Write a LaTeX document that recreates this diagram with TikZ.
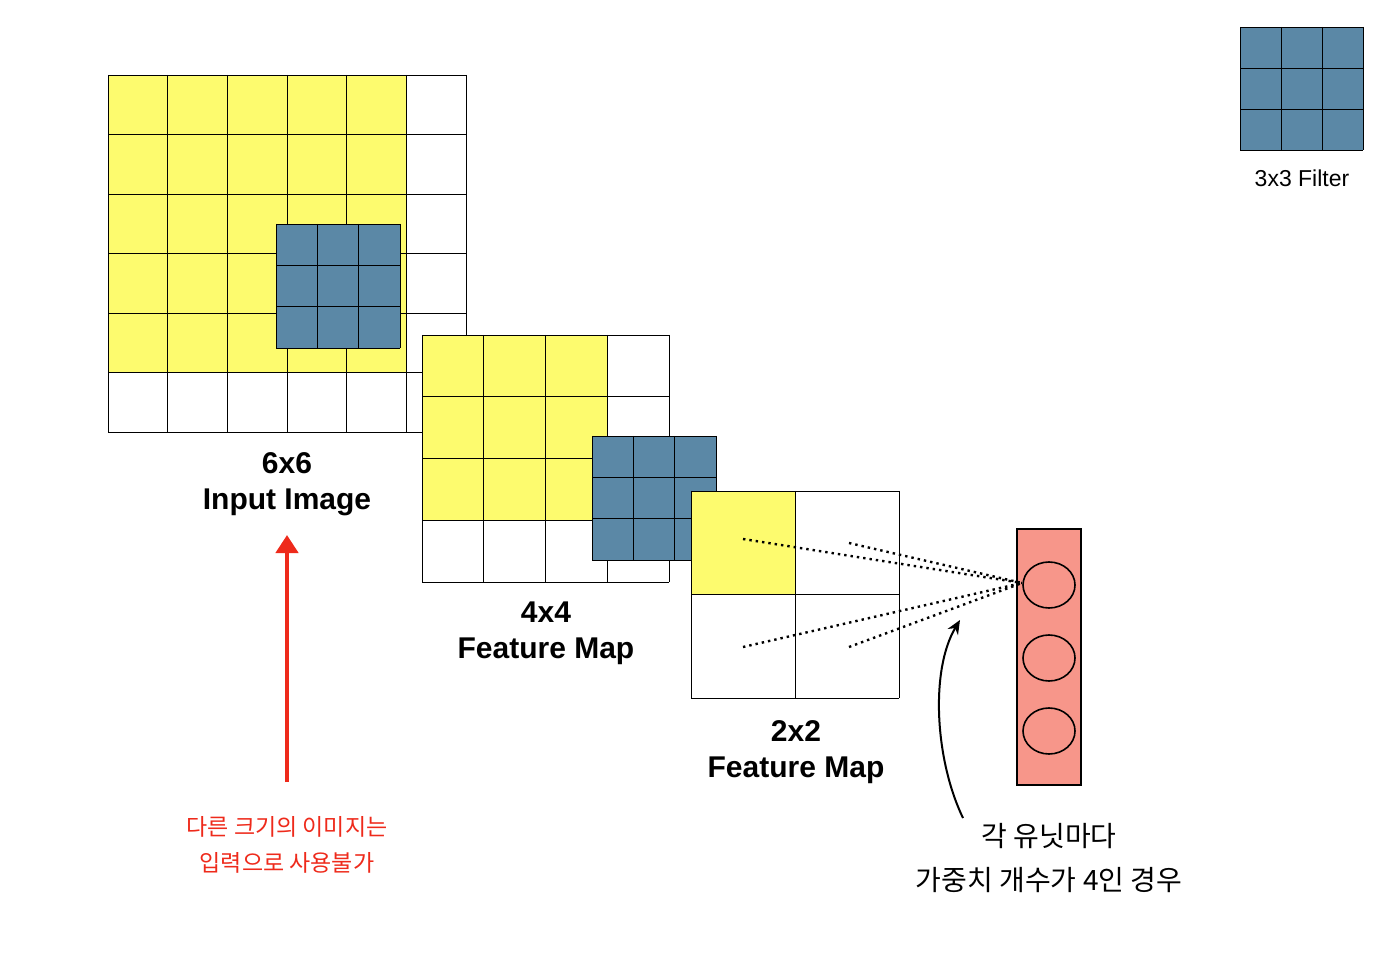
\documentclass[tikz,border=0pt]{standalone}
\usepackage{fontspec}
\setmainfont{Liberation Sans}
\newfontfamily\kofont{Noto Sans CJK KR}
\usetikzlibrary{positioning, arrows.meta, shapes.geometric}
\definecolor{cellyellow}{HTML}{FDFB6E}
\definecolor{filterblue}{HTML}{5B88A6}
\definecolor{unitred}{HTML}{F7968A}
\definecolor{notered}{HTML}{EE2A1B}
\begin{document}
\begin{tikzpicture}[
    x=0.5pt, y=-0.5pt,
    % Style for the grid lines
    grid_line/.style={draw=black, line width=0.4pt},
    % Style for the bold captions
    caption_style/.style={font=\fontsize{15}{18}\selectfont\bfseries, align=center},
    % Style for the Korean notes
    note_style/.style={font=\kofont\fontsize{14}{22}\selectfont, align=center},
    unit_style/.style={ellipse, draw, line width=0.8pt, minimum width=26pt, minimum height=23pt, inner sep=0pt}
]
    \useasboundingbox (0,0) rectangle (1400,977);

    % 1. Input image 6x6 with filter
    \fill[cellyellow] (108,75) rectangle (406,372);
    \foreach \i in {0,...,6} {
        \draw[grid_line] ({108+\i*59.67},75) -- ({108+\i*59.67},432);
        \draw[grid_line] (108,{75+\i*59.5}) -- (466,{75+\i*59.5});
    }
    \fill[filterblue] (276,224) rectangle (400,348);
    \foreach \i in {0,...,3} {
        \draw[grid_line] ({276+\i*41.33},224) -- ({276+\i*41.33},348);
        \draw[grid_line] (276,{224+\i*41.33}) -- (400,{224+\i*41.33});
    }
    \node[caption_style] (in_label) at (287,484) {6x6\\Input Image};

    % 2. Feature map 4x4 with filter
    \fill[white] (422,335) rectangle (669,582);
    \fill[cellyellow] (422,335) rectangle (607,520);
    \foreach \i in {0,...,4} {
        \draw[grid_line] ({422+\i*61.75},335) -- ({422+\i*61.75},582);
        \draw[grid_line] (422,{335+\i*61.75}) -- (669,{335+\i*61.75});
    }
    \fill[filterblue] (592,436) rectangle (716,560);
    \foreach \i in {0,...,3} {
        \draw[grid_line] ({592+\i*41.33},436) -- ({592+\i*41.33},560);
        \draw[grid_line] (592,{436+\i*41.33}) -- (716,{436+\i*41.33});
    }
    \node[caption_style] (fm4_label) at (546,633) {4x4\\Feature Map};

    % 3. Feature map 2x2
    \fill[white] (691,491) rectangle (899,698);
    \fill[cellyellow] (691,491) rectangle (795,595);
    \foreach \i in {0,...,2} {
        \draw[grid_line] ({691+\i*104},491) -- ({691+\i*104},698);
        \draw[grid_line] (691,{491+\i*103.5}) -- (899,{491+\i*103.5});
    }
    \node[caption_style] (fm2_label) at (796,752) {2x2\\Feature Map};

    % 4. Top right 3x3 filter
    \fill[filterblue] (1240,27) rectangle (1363,150);
    \foreach \i in {0,...,3} {
        \draw[grid_line] ({1240+\i*41},27) -- ({1240+\i*41},150);
        \draw[grid_line] (1240,{27+\i*41}) -- (1363,{27+\i*41});
    }
    \node[font=\fontsize{11.5}{14}\selectfont] (filter_label) at (1302,178) {3x3 Filter};

    % 5. Fully connected units
    \draw[fill=unitred, line width=1pt] (1017,529) rectangle (1081,785);
    \foreach \n/\y in {a/585, b/658, c/731}
        \node[unit_style] (unit_\n) at (1049,\y) {};

    \coordinate (src_1) at (743,539);
    \coordinate (src_2) at (849,543);
    \coordinate (src_3) at (743,647);
    \coordinate (src_4) at (849,647);
    \coordinate (unit_in) at (1022,583);
    \foreach \k in {1,...,4}
        \draw[dotted, line width=1.2pt] (src_\k) -- (unit_in);

    % 6. Red note and arrow
    \coordinate (red_start) at (287,782);
    \draw[notered, line width=2.2pt, -{Triangle[length=9pt, width=11pt]}] (red_start) -- (in_label.south |- 0,535);
    \node[note_style, text=notered, font=\kofont\fontsize{11.5}{18}\selectfont] (red_note) at (287,845)
        {다른 크기의 이미지는\\입력으로 사용불가};

    % 7. Black note and arrow
    \node[note_style] (unit_note) at (1049,858) {각 유닛마다\\가중치 개수가 4인 경우};
    \coordinate (note_tip) at (960,620);
    \draw[line width=1pt, -{Stealth[length=7pt, width=6pt]}] (963,818) .. controls (935,760) and (930,670) .. (note_tip);
\end{tikzpicture}
\end{document}
